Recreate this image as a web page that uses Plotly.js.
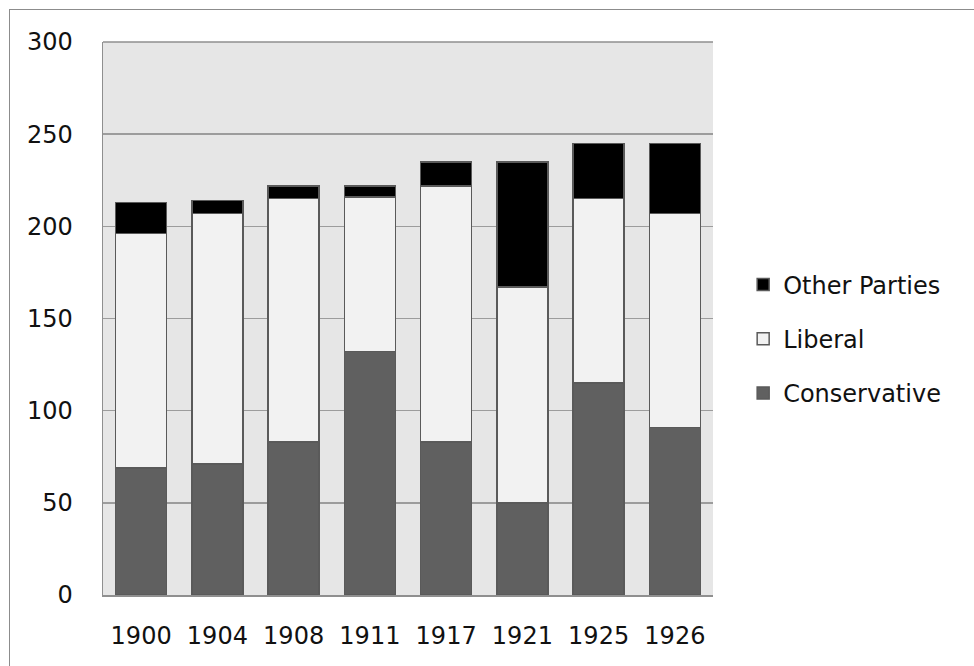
<!DOCTYPE html>
<html>
<head>
<meta charset="utf-8">
<script src="https://cdn.plot.ly/plotly-3.0.1.min.js"></script>
<style>
  html, body { margin: 0; padding: 0; background: #fff; overflow: hidden; }
  #wrap { position: relative; width: 974px; height: 666px; }
  #frame { position: absolute; left: 9px; top: 9px; width: 1000px; height: 700px;
           border-top: 1.5px solid #8c8c8c; border-left: 1.5px solid #8c8c8c; pointer-events: none; }
  #chart { position: absolute; left: 0; top: 0; width: 974px; height: 666px; }
</style>
</head>
<body>
<div id="wrap">
  <div id="chart"></div>
  <div id="frame"></div>
</div>
<script>
// Election years (categories)
const years = ['1900', '1904', '1908', '1911', '1917', '1921', '1925', '1926'];

// Seats won per party
const conservative = [69, 71, 83, 132, 83, 50, 115, 91];
const liberal      = [127, 136, 132, 84, 139, 117, 100, 116];
const otherParties = [17, 7, 7, 6, 13, 68, 30, 38];

const yTicks = [0, 50, 100, 150, 200, 250, 300];

const outline = { color: '#5a5a5a', width: 1.5 };
const font = { family: 'DejaVu Sans, Verdana, sans-serif', size: 24, color: '#111' };

// Stacked bottom-to-top; legend lists the top segment first
const traces = [
  { name: 'Conservative', y: conservative, color: '#606060', group: 'c', rank: 3 },
  { name: 'Liberal', y: liberal, color: '#f2f2f2', group: 'l', rank: 2 },
  { name: 'Other Parties', y: otherParties, color: '#000000', group: 'o', rank: 1 }
].map(s => ({
  type: 'bar',
  x: years,
  y: s.y,
  name: s.name,
  legendgroup: s.group,
  legendrank: s.rank,
  marker: { color: s.color, line: outline },
  hoverinfo: 'x+y+name'
}));

const layout = {
  width: 974,
  height: 666,
  margin: { l: 103, r: 261, t: 42, b: 71 },
  paper_bgcolor: '#ffffff',
  plot_bgcolor: '#e6e6e6',
  barmode: 'stack',
  bargap: 0.33,
  font: font,
  showlegend: true,
  legend: {
    xref: 'container', yref: 'container',
    x: 0.763, y: 0.606, xanchor: 'left', yanchor: 'top',
    traceorder: 'grouped',
    tracegroupgap: 20,
    bgcolor: 'rgba(0,0,0,0)',
    font: font
  },
  xaxis: {
    type: 'category',
    showgrid: false,
    showline: true,
    linecolor: '#8f8f8f',
    linewidth: 1.5,
    ticks: '',
    ticklabelstandoff: 19,
    tickfont: font,
    zeroline: false
  },
  yaxis: {
    range: [0, 300],
    tickvals: yTicks,
    ticktext: yTicks.map(String),
    showgrid: true,
    gridcolor: '#9c9c9c',
    gridwidth: 1.5,
    showline: true,
    linecolor: '#8f8f8f',
    linewidth: 1.5,
    ticks: '',
    ticklabelstandoff: 24,
    tickfont: font,
    zeroline: false
  },
  shapes: [
    // top edge of the plotting area
    { type: 'line', xref: 'paper', yref: 'paper', x0: 0, x1: 1, y0: 1, y1: 1,
      line: { color: '#8f8f8f', width: 1.5 } }
  ]
};

Plotly.newPlot('chart', traces, layout, { displayModeBar: false, staticPlot: true });
</script>
</body>
</html>
